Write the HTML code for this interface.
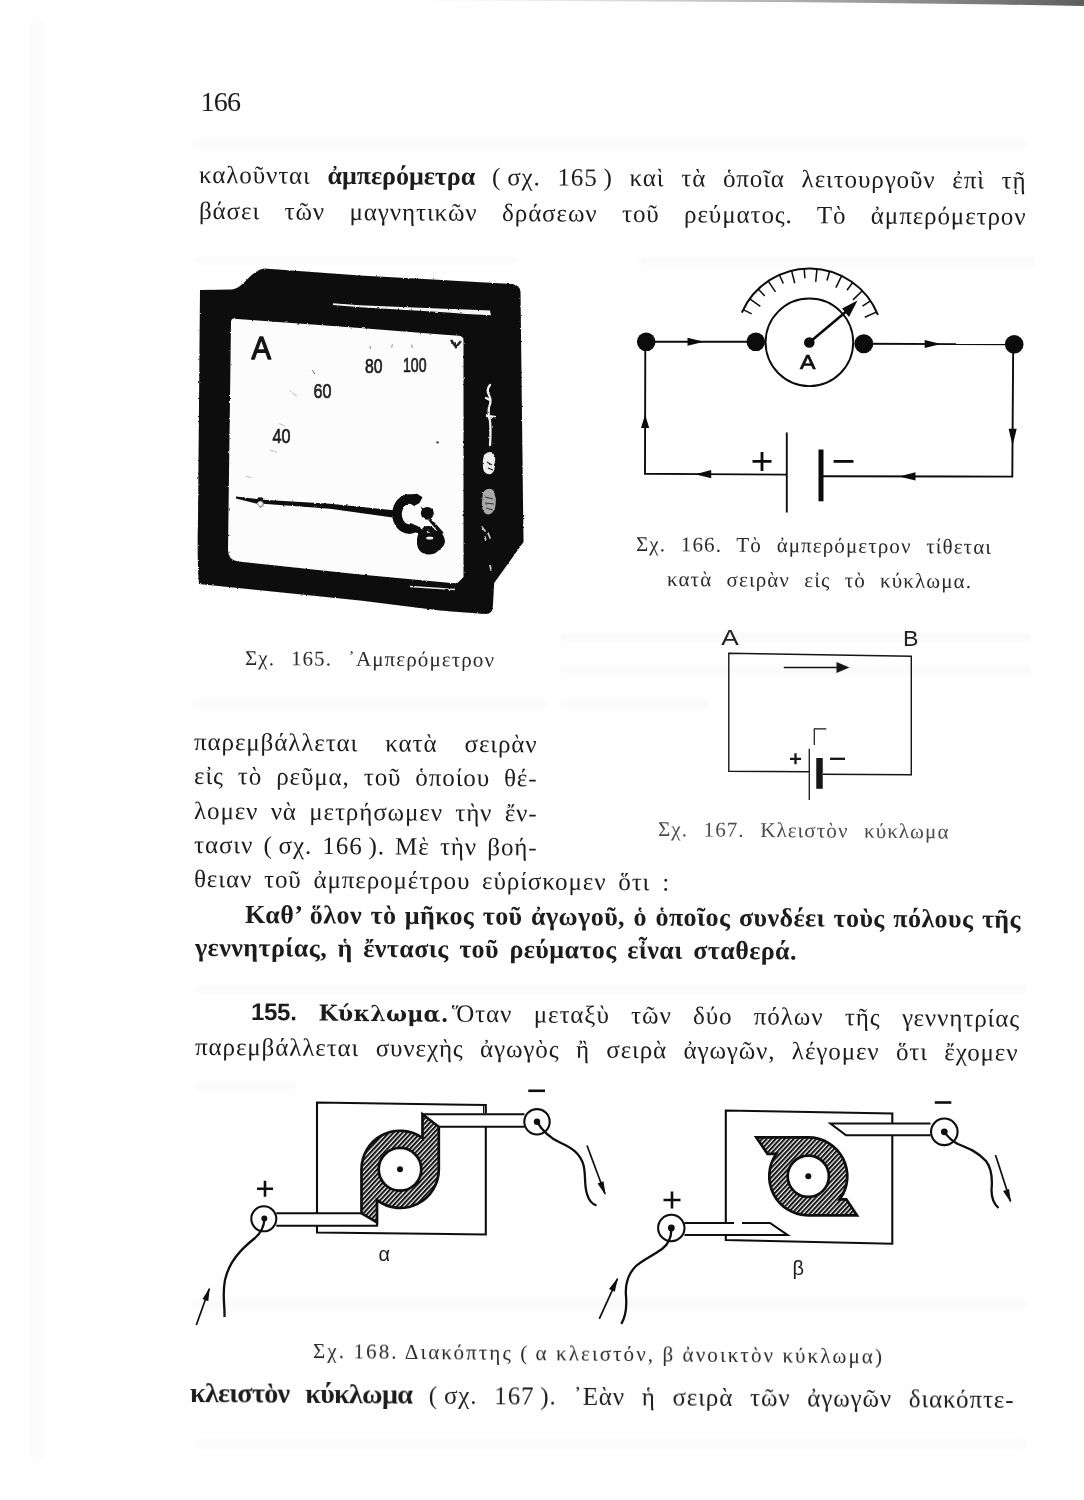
<!DOCTYPE html>
<html lang="el"><head><meta charset="utf-8"><title>166</title>
<style>
html,body{margin:0;padding:0;background:#fff}
#pg{position:relative;width:1084px;height:1500px;overflow:hidden;background:#fefefe;font-family:"Liberation Serif",serif;color:#1c1c1c}
.l{position:absolute;white-space:nowrap;text-align:justify;text-align-last:justify;line-height:1;letter-spacing:.9px}
.l b{font-weight:bold;letter-spacing:0;font-size:26px;line-height:0}
.b b{letter-spacing:.45px}
.l b.s{font-family:"Liberation Sans",sans-serif;font-size:24px;letter-spacing:-.3px;margin-right:2.5px}
.k b{font-size:28px;letter-spacing:-.65px}
.l b.d{font-family:"DejaVu Serif",serif;font-size:22px;letter-spacing:.3px}
.c{letter-spacing:1.1px;color:#2a2a2a}
.n{letter-spacing:-.8px}
.w{letter-spacing:2.1px}
.f{color:#4a4a4a}
.g{display:inline-block;width:7px}
svg{position:absolute;left:0;top:0}
</style></head>
<body><div id="pg">
<svg width="1084" height="1500" viewBox="0 0 1084 1500">
<defs>
<pattern id="hatch" patternUnits="userSpaceOnUse" width="3.3" height="3.3" patternTransform="rotate(-47)">
<rect x="0" y="0" width="3.3" height="3.3" fill="#efefef"/>
<rect x="0" y="0" width="3.3" height="2" fill="#141414"/>
</pattern>
<filter id="rough" x="-5%" y="-5%" width="110%" height="110%">
<feTurbulence type="fractalNoise" baseFrequency="0.35" numOctaves="2" seed="4" result="n"/>
<feDisplacementMap in="SourceGraphic" in2="n" scale="2.2" xChannelSelector="R" yChannelSelector="G"/>
</filter>
</defs>
<defs>
<linearGradient id="topg" x1="0" x2="1" y1="0" y2="0">
<stop offset="0" stop-color="#e9e9e9" stop-opacity="0"/>
<stop offset=".35" stop-color="#d8d8d8"/>
<stop offset=".7" stop-color="#9a9a9a"/>
<stop offset="1" stop-color="#5e5e5e"/>
</linearGradient>
<filter id="soft" x="-5%" y="-50%" width="110%" height="200%"><feGaussianBlur stdDeviation="2.2"/></filter>
</defs>
<path d="M380,0 L1084,0 L1084,6 L1000,4.6 L900,3.2 L780,2 L600,1.2 Z" fill="url(#topg)"/>
<g fill="#000" opacity=".016" filter="url(#soft)">
<rect x="640" y="257" width="395" height="9"/>
<rect x="196" y="257" width="320" height="7"/>
<rect x="560" y="633" width="470" height="8"/>
<rect x="560" y="666" width="470" height="8"/>
<rect x="196" y="700" width="350" height="8"/>
<rect x="560" y="700" width="150" height="8"/>
<rect x="196" y="985" width="830" height="8"/>
<rect x="196" y="1082" width="100" height="8"/>
<rect x="196" y="1300" width="830" height="8"/>
<rect x="196" y="1440" width="830" height="8"/>
<rect x="196" y="140" width="830" height="8"/>
<rect x="30" y="20" width="14" height="1440" opacity=".6"/>
</g>
<g id="f165" filter="url(#rough)">
<path d="M200,290 L232,289.5 C244,288 250,271 264,268.5 L360,275.5 L512,284 Q520,285 520.5,292 L523.5,542 L494.2,583 L492.8,607 Q492.5,613.5 486,614 L440,610.5 L360,600.5 L199,584 Q197,560 198,520 Z" fill="#0b0b0b"/>
<path d="M234,318.7 L360,328 L459,335.8 Q463.5,336.3 463.5,341 L463.5,577 L457,583.5 L360,574.5 L238,561.5 Q228,560 228,550 L231,322 Q231,318.5 234,318.5 Z" fill="#fcfcfc"/>
<path d="M333,303.2 L360,305.2 L466,309.6 L490,310.6 L491,315.3 L466,314 L440,311.9 L360,307.3 L333,305 Z" fill="#f4f4f4"/>
<path d="M410,586.5 L455,589.5" stroke="#e8e8e8" stroke-width="1.3" fill="none"/>
<path d="M236,496.6 L257,499 L258.5,497.3 L262.5,497.5 L263,499.8 L330,503.8 L396,510.5 L398,518.3 L330,508.8 L263,503.8 L261,505.8 L258,504 L236,498.4 Z" fill="#0d0d0d"/>
<circle cx="260.5" cy="503.8" r="2.8" fill="#f4f4f4" stroke="#666" stroke-width="1"/>
<path d="M417,502.5 A12.2,15 0 1 0 414.6,527.5" stroke="#0b0b0b" stroke-width="9.6" fill="none" stroke-linecap="butt"/>
<path d="M411,494.5 L417,493.8 L422.5,497.2 L419.5,503 L414,506 Z" fill="#0b0b0b"/>
<path d="M410,523 L420,527 L424,535 L414,532 Z" fill="#0b0b0b"/>
<circle cx="427.3" cy="513.3" r="6.4" fill="#0b0b0b"/>
<path d="M420.5,506.5 L424,509 L423,512 Z" fill="#0b0b0b"/>
<path d="M430.5,518 L443.5,532.5 L441,535 L428.5,520.5 Z" fill="#0b0b0b"/>
<path d="M422,529 Q424,525.5 429,526 Q433,526.5 435,530 Q444,532 445,541 Q445,546 439,550 Q435,555 427,554.5 Q418,553 417,544 Q416,534 422,529 Z" fill="#0b0b0b"/>
<ellipse cx="429.7" cy="538" rx="3.6" ry="1.6" fill="#f4f4f4"/>
<ellipse cx="428.3" cy="531.7" rx="1.5" ry="1" fill="#f4f4f4"/>
<path d="M451,340 L456,347 L461,341" stroke="#222" stroke-width="2.5" fill="none"/>
<circle cx="437.5" cy="442.5" r="1.3" fill="#444"/>
<g fill="none" stroke="#f2f2f2" stroke-width="2.3" stroke-linecap="round">
<path d="M490,385 q-4,5 -1,10 q3,6 0,12 q-1,8 1,14 q1,10 0,24"/>
<path d="M487,416 l8,1"/><path d="M486,398 l4,2"/>
</g>
<path d="M484,455 q5,-5 9,-2 q4,6 1,12 q2,6 -3,9 q-7,1 -8,-6 q-1,-7 1,-13Z" fill="#eeeeee"/>
<path d="M487,462 l5,3 m-4,3 l5,2" stroke="#222" stroke-width="1.2"/>
<path d="M483,492 q6,-6 11,-1 q3,9 1,17 q-3,8 -9,6 q-5,-4 -4,-12Z" fill="#a9a9a9"/>
<path d="M485,497 l8,2 m-8,4 l9,1 m-8,4 l7,2" stroke="#333" stroke-width="1"/>
<path d="M482,527 l3,4 m3,2 l2,5 m-5,-1 l1,4 m4,24 l1,5" stroke="#c8c8c8" stroke-width="1.8" stroke-linecap="round" fill="none"/>
<g stroke="#bdbdbd" stroke-width="1" fill="none">
<path d="M279,423.5 l6,2.5"/><path d="M270,450 l7,2.5"/><path d="M246,476 l6,2"/><path d="M290,391 l7,5"/><path d="M312,370 l3,4" stroke="#555"/>
<path d="M370,346 l.5,4 M392,345 l0,3 M412,344 l0,4" stroke="#888"/>
</g>
</g>
<g font-family="'Liberation Sans',sans-serif" font-weight="bold" fill="#141414">
<text x="251.5" y="358.5" font-size="32" font-weight="normal" stroke="#141414" stroke-width="1.3" stroke-linejoin="round" textLength="19.5" lengthAdjust="spacingAndGlyphs">A</text>
<g font-size="20.5" fill="#1d1d1d" font-weight="normal" stroke="#1d1d1d" stroke-width=".7">
<text x="272.5" y="443" textLength="18" lengthAdjust="spacingAndGlyphs">40</text>
<text x="313.5" y="397.5" textLength="18" lengthAdjust="spacingAndGlyphs">60</text>
<text x="365" y="373" textLength="17.5" lengthAdjust="spacingAndGlyphs">80</text>
<text x="403" y="371.5" textLength="23.5" lengthAdjust="spacingAndGlyphs">100</text>
</g>
</g>
<g id="f166" stroke="#0c0c0c" fill="none" stroke-width="1.9" stroke-linecap="butt">
<path d="M646.2,341.8 L756,341.8"/>
<path d="M863.8,343.8 L1014.2,344.3"/>
<path d="M1013.2,344 L1012.3,476.6 L821,476.3"/>
<path d="M786.8,474.6 L645,473.8 L645.3,342"/>
<circle cx="809.4" cy="342.3" r="43.8"/>
<path d="M786.8,432.5 L786.8,512.5" stroke-width="1.9"/>
<path d="M821,449.5 L821,501.3" stroke-width="5"/>
<path d="M752.5,461.3 L771.5,461.3 M762,452 L762,471" stroke-width="2.8"/>
<path d="M833.6,461.4 L853.5,461.4" stroke-width="2.8"/>
<path d="M809.3,342.5 L848,310" stroke-width="2.6"/>
<g id="scale166" stroke-width="1.5">
<path d="M741.8,312.6 A73.8,73.8 0 0 1 877.9,314.9" stroke-width="2"/>
<path d="M743.2,309.7 L751.7,313.9"/>
<path d="M749.8,298.8 L760.3,306.4"/>
<path d="M758.2,289.1 L764.8,296.0"/>
<path d="M768.2,281.1 L775.5,291.8"/>
<path d="M779.4,274.9 L783.3,283.5"/>
<path d="M791.6,270.7 L794.7,283.3"/>
<path d="M804.2,268.7 L804.9,278.2"/>
<path d="M817.0,268.9 L815.7,281.8"/>
<path d="M829.6,271.3 L827.0,280.5"/>
<path d="M841.6,275.9 L835.9,287.6"/>
<path d="M852.6,282.5 L847.0,290.2"/>
<path d="M862.3,290.8 L853.0,299.9"/>
<path d="M870.4,300.8 L862.5,306.1"/>
<path d="M876.7,311.9 L864.8,317.3"/>
</g>
</g>
<g fill="#0c0c0c" stroke="none">
<circle cx="646.2" cy="341.8" r="9.3"/>
<circle cx="755.8" cy="341.8" r="9.3"/>
<circle cx="863.8" cy="343.8" r="9.5"/>
<circle cx="1014.2" cy="344.3" r="9.3"/>
<circle cx="809.3" cy="342.5" r="5.3"/>
<path d="M857.5,300.5 L842,308.5 L849,317 Z"/>
<path d="M704,341.8 L687.5,337.8 L687.5,345.8 Z"/>
<path d="M941,343.9 L924.7,339.9 L924.7,347.9 Z"/>
<path d="M1012.6,445.5 L1008.6,428.7 L1016.7,428.7 Z"/>
<path d="M899,476.4 L915.5,472.3 L915.5,480.5 Z"/>
<path d="M694.8,474.2 L711.2,470.1 L711.2,478.3 Z"/>
<path d="M645.1,414.5 L641,428 L649.2,428 Z"/>
</g>
<text x="800" y="368.8" font-family="'Liberation Sans',sans-serif" font-size="21" fill="#111" stroke="#111" stroke-width=".7" textLength="15.5" lengthAdjust="spacingAndGlyphs">A</text>
<g id="f167" stroke="#161616" fill="none" stroke-width="1.4">
<path d="M809.3,771.8 L728.8,771.3 L728.8,653.2 L911.3,656.3 L911.3,774.8 L823,774.3"/>
<path d="M783.8,667.5 L840,667.5"/>
<path d="M814.3,745 L814.3,728.8 L826.3,728.8" stroke-width="1.2"/>
<path d="M809.3,748.8 L809.3,800" stroke-width="1.3"/>
<path d="M819.5,758 L819.5,788.8" stroke-width="6.5"/>
<path d="M790,758.8 L801,758.8 M795.5,753.3 L795.5,764.3" stroke-width="2.3"/>
<path d="M830,758.8 L845,758.8" stroke-width="2.3"/>
</g>
<path d="M849.5,667.5 L836.5,662 L836.5,673 Z" fill="#161616"/>
<g font-family="'Liberation Sans',sans-serif" font-size="22.6" fill="#222">
<text x="721.3" y="645" textLength="17.5" lengthAdjust="spacingAndGlyphs">A</text>
<text x="903" y="645.6" textLength="15.5" lengthAdjust="spacingAndGlyphs">B</text>
</g>
<g id="f168" stroke="#0e0e0e" fill="none" stroke-width="2.1" stroke-linejoin="miter">
<!-- alpha -->
<path d="M317,1213 L317,1102.5 L485.8,1105 L485.8,1113.5 M485.8,1127 L485.8,1234.5 L317,1232.5 L317,1226"/>
<path d="M483.6,1105 L483.6,1113.5" stroke-width="1.2"/>
<path d="M422.5,1114.2 L438.8,1126.8 L438.8,1169.3 A38.5,38.5 0 0 1 377,1200.1 L377,1222.5 L361.5,1213.3 L361.5,1169.3 A38.5,38.5 0 0 1 422.5,1138 Z M421.3,1169.3 A21.3,21.3 0 1 0 378.7,1169.3 A21.3,21.3 0 1 0 421.3,1169.3 Z" fill="url(#hatch)" fill-rule="evenodd" stroke-width="2.7"/>
<path d="M422.5,1114.2 L524.5,1114.2 M438.8,1126.8 L524.5,1126.8"/>
<path d="M361.5,1213.3 L276.3,1213.3 M377,1222.5 L377,1225.8 L276.3,1225.8"/>
<circle cx="537" cy="1121.8" r="12.7"/>
<circle cx="263.8" cy="1218.8" r="12.5"/>
<path d="M528.3,1090.8 L545,1090.8" stroke-width="2.6"/>
<path d="M257,1188.8 L273,1188.8 M265,1180.8 L265,1196.8" stroke-width="2.6"/>
<path d="M264.5,1219 C264,1226 262,1232 255,1238 C240,1250 229,1262 225,1280 C222,1295 225,1305 224.5,1317" stroke-width="2.3"/>
<path d="M196.3,1325 L209.3,1288.8" stroke-width="1.7"/>
<path d="M537,1121.8 C542,1130 548,1137 560,1142.5 C572,1148 580,1153 583.5,1165 C586,1175 584,1185 587,1194 C589,1201 592,1204 596.5,1205.5" stroke-width="2.3"/>
<path d="M587,1145.5 L605,1193.8" stroke-width="1.7"/>
<!-- beta -->
<path d="M725.8,1222.5 L725.8,1110.5 L892.3,1113.5 L892.3,1123 M892.3,1136 L892.3,1243.8 L725.8,1240 L725.8,1235.5"/>
<path d="M756.3,1137.3 L808.3,1137.3 A39,39 0 0 1 839.8,1199.3 L846.3,1199.3 L857,1215.3 L808.3,1215.3 A39,39 0 0 1 776.4,1153.8 L767.5,1153.8 Z M828.9,1176.3 A20.6,20.6 0 1 0 787.7,1176.3 A20.6,20.6 0 1 0 828.9,1176.3 Z" fill="url(#hatch)" fill-rule="evenodd" stroke-width="2.7"/>
<path d="M930.5,1123.5 L830.5,1123.5 L846,1135.3 L930.5,1135.3"/>
<path d="M684.5,1223 L734,1223 M742,1223 L770,1223 L787.5,1235 L684.5,1235"/>
<circle cx="944.3" cy="1131.8" r="13.3"/>
<circle cx="671.3" cy="1228" r="13.2"/>
<path d="M934.8,1102.5 L951.3,1102.5" stroke-width="2.6"/>
<path d="M663.5,1200 L680.5,1200 M672,1191.5 L672,1208.5" stroke-width="2.6"/>
<path d="M671.3,1228.8 C671.5,1236 670,1243 662,1249 C652,1256 643,1260 636,1266 C628,1274 625,1284 626,1296 C627,1308 626,1316 621.3,1323.8" stroke-width="2.3"/>
<path d="M599.3,1318.8 L617.5,1278.8" stroke-width="1.7"/>
<path d="M944.3,1131.8 C948,1137 952,1141 958,1144 C968,1148 978,1152 986,1161 C992,1169 992.5,1180 991.5,1190 C991.5,1198 994,1204 998.5,1208" stroke-width="2.3"/>
<path d="M995.5,1155 L1010.5,1201.3" stroke-width="1.7"/>
</g>
<g fill="#0e0e0e" stroke="none">
<circle cx="400" cy="1169.3" r="3"/>
<circle cx="808.3" cy="1176.3" r="3"/>
<circle cx="537" cy="1121.8" r="3.2"/>
<circle cx="264.3" cy="1218.5" r="3"/>
<circle cx="944.3" cy="1131.8" r="3.4"/>
<circle cx="671.3" cy="1228" r="3.4"/>
<path d="M209.8,1287.5 L202.5,1299 L208.3,1301.2 Z"/>
<path d="M605.6,1195.2 L597.5,1183.5 L603.5,1181.3 Z"/>
<path d="M618,1277.5 L609,1289 L614.8,1291.7 Z"/>
<path d="M1011,1202.8 L1003,1191 L1009,1189 Z"/>
</g>
<g font-family="'Liberation Sans',sans-serif" fill="#1a1a1a">
<text x="378.5" y="1261.3" font-size="20">α</text>
<text x="792.5" y="1274.5" font-size="20">β</text>
</g>
</svg>
<div class="l n" id="t0" style="left:200.5px;top:87.5px;width:39.9px;font-size:28px">166</div>
<div class="l " id="t1" style="left:198.5px;top:162.4px;width:827.5px;font-size:25px;transform:rotate(0.4deg);transform-origin:0 20.9px">καλοῦνται <b>ἀμπερόμετρα</b> ( σχ. 165 ) καὶ τὰ ὁποῖα λειτουργοῦν ἐπὶ τῇ</div>
<div class="l " id="t2" style="left:198.5px;top:197.5px;width:827.5px;font-size:25px;transform:rotate(0.4deg);transform-origin:0 20.9px">βάσει τῶν μαγνητικῶν δράσεων τοῦ ρεύματος. Τὸ ἀμπερόμετρον</div>
<div class="l c" id="t3" style="left:636.0px;top:534.4px;width:356.0px;font-size:21px;transform:rotate(0.45deg);transform-origin:0 17.6px">Σχ. 166. Τὸ ἀμπερόμετρον τίθεται</div>
<div class="l c" id="t4" style="left:667.0px;top:568.6px;width:305.0px;font-size:21px;transform:rotate(0.4deg);transform-origin:0 17.6px">κατὰ σειρὰν εἰς τὸ κύκλωμα.</div>
<div class="l c" id="t5" style="left:245.0px;top:648.4px;width:250.0px;font-size:21px;transform:rotate(0.4deg);transform-origin:0 17.6px">Σχ. 165. ᾿Αμπερόμετρον</div>
<div class="l c f" id="t6" style="left:657.5px;top:818.8px;width:291.5px;font-size:21px;transform:rotate(0.5deg);transform-origin:0 17.6px">Σχ. 167. Κλειστὸν κύκλωμα</div>
<div class="l " id="t7" style="left:194.0px;top:729.1px;width:343.5px;font-size:25px;transform:rotate(0.42deg);transform-origin:0 20.9px">παρεμβάλλεται κατὰ σειρὰν</div>
<div class="l " id="t8" style="left:194.0px;top:763.1px;width:343.5px;font-size:25px;transform:rotate(0.42deg);transform-origin:0 20.9px">εἰς τὸ ρεῦμα, τοῦ ὁποίου θέ-</div>
<div class="l " id="t9" style="left:194.0px;top:797.6px;width:343.5px;font-size:25px;transform:rotate(0.42deg);transform-origin:0 20.9px">λομεν νὰ μετρήσωμεν τὴν ἔν-</div>
<div class="l " id="t10" style="left:194.0px;top:831.6px;width:343.5px;font-size:25px;transform:rotate(0.42deg);transform-origin:0 20.9px">τασιν ( σχ. 166 ). Μὲ τὴν βοή-</div>
<div class="l " id="t11" style="left:194.0px;top:866.1px;width:476.0px;font-size:25px;transform:rotate(0.42deg);transform-origin:0 20.9px">θειαν τοῦ ἀμπερομέτρου εὑρίσκομεν ὅτι :</div>
<div class="l b" id="t12" style="left:245.0px;top:901.8px;width:776.0px;font-size:26px;transform:rotate(0.355deg);transform-origin:0 21.8px"><b>Καθ’ ὅλον τὸ μῆκος τοῦ ἀγωγοῦ, ὁ ὁποῖος συνδέει τοὺς πόλους τῆς</b></div>
<div class="l b" id="t13" style="left:195.0px;top:935.4px;width:602.0px;font-size:26px;transform:rotate(0.33deg);transform-origin:0 21.8px"><b>γεννητρίας, ἡ ἔντασις τοῦ ρεύματος εἶναι σταθερά.</b></div>
<div class="l " id="t14" style="left:250.5px;top:998.9px;width:769.0px;font-size:25px;transform:rotate(0.51deg);transform-origin:0 20.9px"><b class='s'>155.  </b><b class='d'>Κύκλωμα.</b> Ὅταν μεταξὺ τῶν δύο πόλων τῆς γεννητρίας</div>
<div class="l " id="t15" style="left:195.0px;top:1033.6px;width:823.5px;font-size:25px;transform:rotate(0.4deg);transform-origin:0 20.9px">παρεμβάλλεται συνεχὴς ἀγωγὸς ἢ σειρὰ ἀγωγῶν, λέγομεν ὅτι ἔχομεν</div>
<div class="l c w" id="t16" style="left:312.5px;top:1341.1px;width:569.5px;font-size:21px;transform:rotate(0.55deg);transform-origin:0 17.6px">Σχ. 168. Διακόπτης ( α κλειστόν, β ἀνοικτὸν κύκλωμα)</div>
<div class="l k" id="t17" style="left:190.0px;top:1381.4px;width:824.5px;font-size:25px;transform:rotate(0.42deg);transform-origin:0 20.9px"><b>κλειστὸν κύκλωμα</b> ( σχ. 167 ). ᾿Εὰν ἡ σειρὰ τῶν ἀγωγῶν διακόπτε-</div>
</div></body></html>
